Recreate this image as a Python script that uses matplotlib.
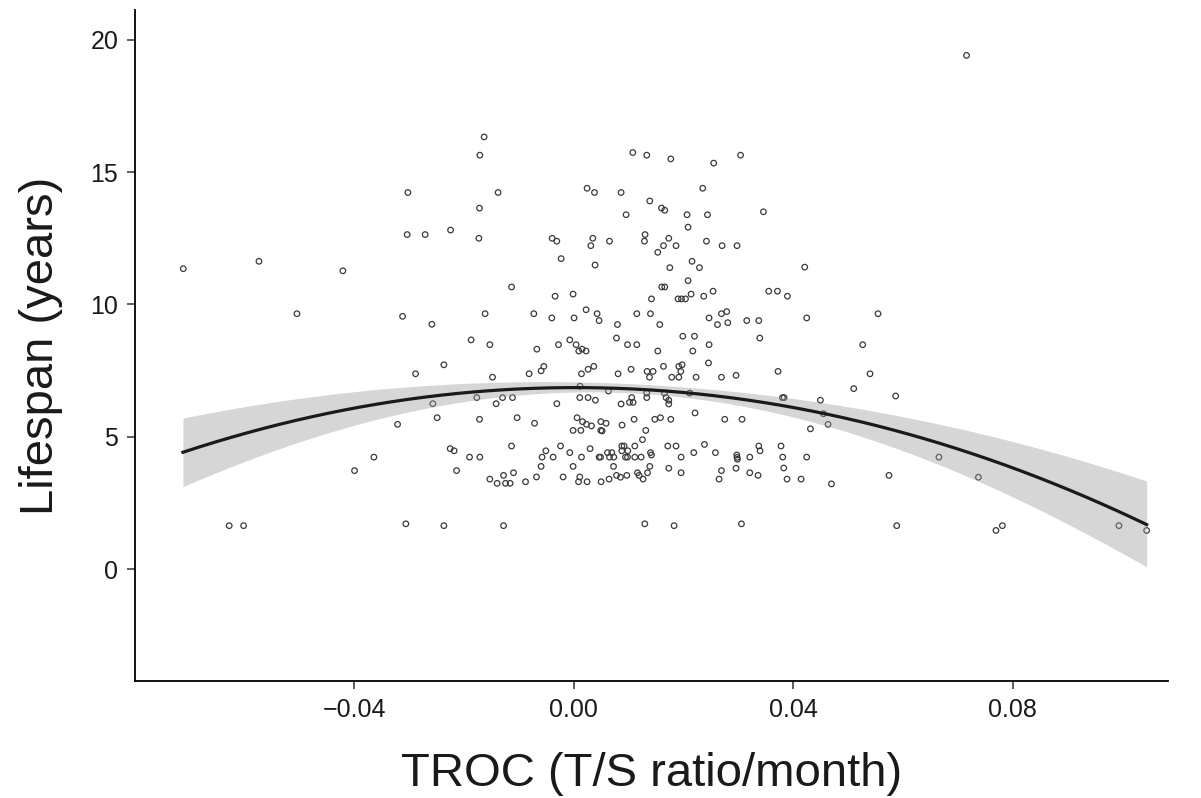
import numpy as np
import matplotlib
matplotlib.use("Agg")
from matplotlib import pyplot as plt

plt.rcParams['font.family'] = ['Liberation Sans', 'DejaVu Sans']

# TROC (T/S ratio per month) and lifespan (years)
troc = [
    -0.0712, -0.0574, -0.0421, -0.01635, -0.01713, -0.03025, -0.0138, -0.01719,
    -0.03038, -0.0271, -0.02247, -0.01731, -0.00395, -0.0031, -0.00231,
    0.01075, 0.0133, 0.01768, 0.0255, 0.0304, 0.00242, 0.00377, 0.00862, 0.0235,
    0.01385, 0.01598, 0.01658, 0.00953, 0.02065, 0.02437, 0.02083, 0.00346,
    0.0031, 0.00651, 0.01299, 0.01288, 0.01731, 0.01635, 0.01864, 0.01531,
    0.02418, 0.02703, 0.02976, 0.00388, 0.0175, 0.02156, 0.02291, 0.0716,
    0.03457, 0.0421, -0.05048, -0.01135, -0.00341, -0.00013, -0.03122, -0.02588,
    -0.01617, -0.00729, -0.00401, 0.00005, -0.01872, -0.01531, -0.00674,
    -0.00279, -0.00073, 0.00042, -0.02369, -0.02885, -0.01482, -0.00815,
    -0.00596, -0.00547, -0.0257, -0.01768, -0.01416, -0.01299, -0.01117,
    -0.0031, -0.02491, -0.01719, -0.01033, -0.00716, -0.03213, 0.02083,
    0.01604, 0.01658, 0.01416, 0.01901, 0.01963, 0.02036, 0.02138, 0.02369,
    0.02539, 0.00224, 0.00425, 0.00461, 0.01148, 0.01398, 0.00796, 0.01567,
    0.02466, 0.02692, 0.02788, 0.02619, 0.02807, 0.03153, 0.00778, 0.00979,
    0.01148, 0.01987, 0.022, 0.02466, 0.00091, 0.00151, 0.00224, 0.01531,
    0.02169, 0.02455, 0.00365, 0.00261, 0.0014, 0.00807, 0.01044, 0.01336,
    0.01445, 0.0138, 0.01635, 0.01914, 0.01974, 0.0195, 0.01786, 0.01914,
    0.02229, 0.02692, 0.02958, 0.00115, 0.00632, 0.0133, 0.01653, 0.02114,
    0.00109, 0.00261, 0.00395, 0.01057, 0.01015, 0.01081, 0.0133, 0.01682,
    0.01731, 0.01731, 0.00862, 0.02211, 0.0006, 0.00159, 0.00231, 0.00323,
    0.00492, 0.00589, 0.0088, 0.01099, 0.01476, 0.0158, 0.01768, 0.02752,
    0.03067, 0.03554, 0.03712, 0.03895, 0.03372, 0.04246, 0.05546, 0.0339,
    0.05267, 0.03723, 0.054, 0.05103, 0.05868, 0.03804, 0.03833, 0.04496,
    0.04551, 0.04635, -0.03645, -0.03997, -0.06282, -0.0602, -0.00013,
    -0.02254, -0.02182, -0.01901, -0.01713, -0.01135, -0.02138, -0.01531,
    -0.01398, -0.01281, -0.01245, -0.01161, -0.01099, -0.0088, -0.0068,
    -0.00596, -0.00578, -0.0051, -0.00377, -0.00242, -0.00073, -0.00013,
    -0.00195, -0.03062, -0.02369, -0.01281, 0.00128, 0.00492, 0.00516,
    0.01312, 0.01252, 0.0014, 0.00297, 0.00461, 0.00487, 0.00614, 0.00693,
    0.00651, 0.00729, 0.00875, 0.00917, 0.00875, 0.00984, 0.00942, 0.00979,
    0.01112, 0.01112, 0.01227, 0.01398, 0.01416, 0.01713, 0.01864, 0.01956,
    0.02187, 0.02382, 0.02582, 0.02971, 0.02976, 0.02983, 0.03208, 0.00724,
    0.01385, 0.01731, 0.02692, 0.02958, 0.00109, 0.00086, 0.00242, 0.00498,
    0.00643, 0.00778, 0.00851, 0.00966, 0.01161, 0.0119, 0.01263, 0.01343,
    0.01956, 0.02648, 0.03208, 0.01294, 0.01828, 0.03056, 0.04314, 0.03372,
    0.03395, 0.03778, 0.03809, 0.04246, 0.03827, 0.03359, 0.03887, 0.04143,
    0.04697, 0.05746, 0.06657, 0.07376, 0.05887, 0.07696, 0.07813, 0.09938,
    0.10443,
]
lifespan = [
    11.35, 11.63, 11.27, 16.33, 15.64, 14.23, 14.23, 13.64,
    12.64, 12.64, 12.81, 12.50, 12.50, 12.39, 11.73,
    15.74, 15.64, 15.50, 15.34, 15.64, 14.39, 14.23, 14.23, 14.39,
    13.91, 13.64, 13.56, 13.39, 13.39, 13.39, 12.92, 12.50,
    12.22, 12.39, 12.64, 12.39, 12.50, 12.22, 12.22, 11.97,
    12.39, 12.22, 12.22, 11.49, 11.39, 11.63, 11.39, 19.41,
    13.50, 11.41, 9.65, 10.66, 10.31, 10.39, 9.55, 9.25,
    9.65, 9.65, 9.49, 9.49, 8.66, 8.48, 8.31,
    8.48, 8.66, 8.48, 7.72, 7.38, 7.25, 7.38,
    7.49, 7.66, 6.25, 6.48, 6.25, 6.48, 6.48,
    6.25, 5.72, 5.66, 5.72, 5.51, 5.47, 10.90,
    10.66, 10.66, 10.21, 10.21, 10.21, 10.21, 10.39, 10.31,
    10.50, 9.80, 9.65, 9.39, 9.65, 9.65, 9.24, 9.24,
    9.49, 9.65, 9.73, 9.24, 9.31, 9.39, 8.73, 8.48,
    8.48, 8.80, 8.80, 8.48, 8.24, 8.31, 8.24, 8.24,
    8.24, 7.79, 7.66, 7.55, 7.38, 7.38, 7.55, 7.47,
    7.47, 7.25, 7.66, 7.66, 7.72, 7.47, 7.25, 7.25,
    7.25, 7.25, 7.32, 6.91, 6.73, 6.65, 6.65, 6.65,
    6.48, 6.48, 6.38, 6.48, 6.30, 6.30, 6.48, 6.48,
    6.38, 6.24, 6.24, 5.90, 5.72, 5.57, 5.47, 5.41,
    5.57, 5.51, 5.44, 5.66, 5.66, 5.72, 5.66, 5.66,
    5.66, 10.50, 10.50, 10.31, 9.39, 9.49, 9.65, 8.73,
    8.48, 7.47, 7.38, 6.82, 6.54, 6.48, 6.48, 6.38,
    5.87, 5.47, 4.23, 3.72, 1.64, 1.64, 5.24,
    4.55, 4.47, 4.23, 4.23, 4.65, 3.72, 3.40,
    3.24, 3.54, 3.24, 3.24, 3.64, 3.30, 3.48,
    3.88, 4.23, 4.47, 4.23, 4.65, 4.40, 3.88,
    3.48, 1.71, 1.64, 1.64, 5.24, 5.24, 5.22,
    5.24, 4.89, 4.23, 4.55, 4.23, 4.23, 4.40, 4.40,
    4.23, 4.23, 4.65, 4.65, 4.47, 4.47, 4.23, 4.23,
    4.65, 4.23, 4.23, 4.40, 4.31, 4.65, 4.65, 4.23,
    4.40, 4.71, 4.40, 4.31, 4.22, 4.15, 4.23, 3.88,
    3.88, 3.81, 3.72, 3.81, 3.48, 3.30, 3.30, 3.30,
    3.40, 3.54, 3.47, 3.54, 3.64, 3.54, 3.40, 3.64,
    3.64, 3.40, 3.64, 1.71, 1.64, 1.71, 5.30, 4.65,
    4.47, 4.65, 4.23, 4.23, 3.82, 3.54, 3.40, 3.40,
    3.22, 3.54, 4.23, 3.47, 1.64, 1.46, 1.64, 1.64,
    1.46,
]

# fitted quadratic trend and its 95% band
smooth_x = [-0.07126, -0.05905, -0.04939, -0.03171, -0.01531, 0.00018,
            0.01567, 0.03189, 0.04939, 0.06762, 0.08584, 0.10443]
smooth_fit = [4.41, 5.17, 5.68, 6.36, 6.75, 6.88, 6.75, 6.41, 5.65, 4.75, 3.25, 1.75]
smooth_lo = [3.09, 4.15, 4.88, 5.89, 6.45, 6.64, 6.53, 6.15, 5.25, 3.98, 1.95, 0.15]
smooth_hi = [5.72, 6.15, 6.48, 6.83, 7.05, 7.12, 6.97, 6.66, 6.05, 5.45, 4.56, 3.30]

x = np.array(troc)
y = np.array(lifespan)

# smooth the read-off trend for drawing
sx = np.array(smooth_x)
xs = np.linspace(sx.min(), sx.max(), 300)
fit = np.polyval(np.polyfit(sx, smooth_fit, 2), xs)
lo = np.polyval(np.polyfit(sx, smooth_lo, 4), xs)
hi = np.polyval(np.polyfit(sx, smooth_hi, 4), xs)

fig = plt.figure(figsize=(12.01, 7.98), dpi=100)
ax = fig.add_axes([0.1124, 0.1466, 0.86, 0.841])

ax.scatter(x, y, s=16, facecolors='none', edgecolors='#3a3a3a', linewidths=0.9, zorder=2)
ax.fill_between(xs, lo, hi, color='#999999', alpha=0.4, linewidth=0, zorder=3)
ax.plot(xs, fit, color='#1a1a1a', linewidth=2.3, zorder=4)

ax.set_xlim(-0.0800, 0.1083)
ax.set_ylim(-4.23, 21.13)
ax.set_xticks([-0.04, 0.00, 0.04, 0.08])
ax.set_xticklabels(['\u22120.04', '0.00', '0.04', '0.08'])
ax.set_yticks([0, 5, 10, 15, 20])

for side in ['top', 'right']:
    ax.spines[side].set_visible(False)
for side in ['left', 'bottom']:
    ax.spines[side].set_linewidth(1.3)
    ax.spines[side].set_color('black')
ax.tick_params(axis='both', length=6, width=1.1, color='#333333',
               labelsize=18, labelcolor='#1a1a1a', pad=6)

ax.set_xlabel('TROC (T/S ratio/month)', fontsize=34, labelpad=22, color='#1a1a1a')
ax.set_ylabel('Lifespan (years)', fontsize=34, labelpad=20, color='#1a1a1a')

fig.savefig('out.png', dpi=100)
